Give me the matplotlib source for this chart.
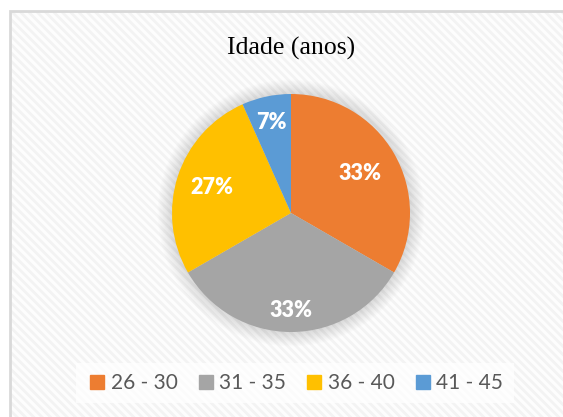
import numpy as np
import matplotlib.pyplot as plt
from matplotlib.patches import Rectangle, Circle
from matplotlib.lines import Line2D

# Data
faixas = ['26 - 30', '31 - 35', '36 - 40', '41 - 45']
contagens = [5, 5, 4, 1]
cores = ['#ED7D31', '#A5A5A5', '#FFC000', '#5B9BD5']
# radial position of each percentage label (fraction of radius)
dist_rotulo = [0.67, 0.82, 0.70, 0.78]

plt.rcParams['hatch.linewidth'] = 2.0

W, H = 563, 417
fig = plt.figure(figsize=(W / 100, H / 100), dpi=100)
fig.patch.set_facecolor('white')

# Chart area background with diagonal stripes and light border
x0, y1 = 10 / W, (H - 11) / H
fundo = Rectangle((x0, -0.01), 1.0, y1 + 0.01, transform=fig.transFigure,
                  facecolor='#fdfdfd', edgecolor='#f3f3f3', hatch='\\\\\\\\',
                  linewidth=0, zorder=-2)
borda = Rectangle((x0, -0.01), 1.0, y1 + 0.01, transform=fig.transFigure,
                  facecolor='none', edgecolor='#d9d9d9', linewidth=2, zorder=-1)
fig.patches.extend([fundo, borda])

fig.text(291 / W, 1 - 48 / H, 'Idade (anos)', ha='center', va='center',
         fontsize=18.5, family='Liberation Serif', color='black')

# Pie axes: center (291, 213) px, radius 119 px
cx, cy, r = 291, 213, 119
ax = fig.add_axes([(cx - r) / W, (H - cy - r) / H, 2 * r / W, 2 * r / H])
ax.set_zorder(2)
ax.patch.set_visible(False)

wedges, _ = ax.pie(contagens, colors=cores, startangle=90, counterclock=False,
                   radius=1.0, wedgeprops=dict(linewidth=0))
ax.set_xlim(-1.0, 1.0)
ax.set_ylim(-1.0, 1.0)
ax.set_axis_off()
for w in wedges:
    w.set_zorder(2)

# soft shadow around the pie
for rr in np.linspace(1.12, 1.0, 12):
    ax.add_patch(Circle((0, 0), rr, facecolor='#000000', alpha=0.012,
                        edgecolor='none', zorder=1, clip_on=False))

total = sum(contagens)
for w, c, d in zip(wedges, contagens, dist_rotulo):
    ang = np.deg2rad((w.theta1 + w.theta2) / 2)
    ax.text(d * np.cos(ang), d * np.sin(ang), '{:.0f}%'.format(100 * c / total),
            ha='center', va='center', color='white', fontsize=15.5,
            fontweight='heavy', family='Lato', zorder=3)

handles = [Line2D([], [], marker='s', linestyle='none', markersize=9.5,
                  markerfacecolor=c, markeredgecolor=c) for c in cores]
leg = fig.legend(handles, faixas, loc='center', ncol=4,
                 bbox_to_anchor=(295 / W, 1 - 383 / H), frameon=True,
                 fontsize=15, handletextpad=0.15, columnspacing=0.85,
                 handlelength=1.0, borderpad=0.5)
leg.get_frame().set_facecolor('white')
leg.get_frame().set_alpha(0.7)
leg.get_frame().set_edgecolor('none')
leg.get_frame().set_boxstyle('square', pad=0)
for t in leg.get_texts():
    t.set_color('#595959')
    t.set_family('Lato')

fig.savefig('out.png', dpi=100)
